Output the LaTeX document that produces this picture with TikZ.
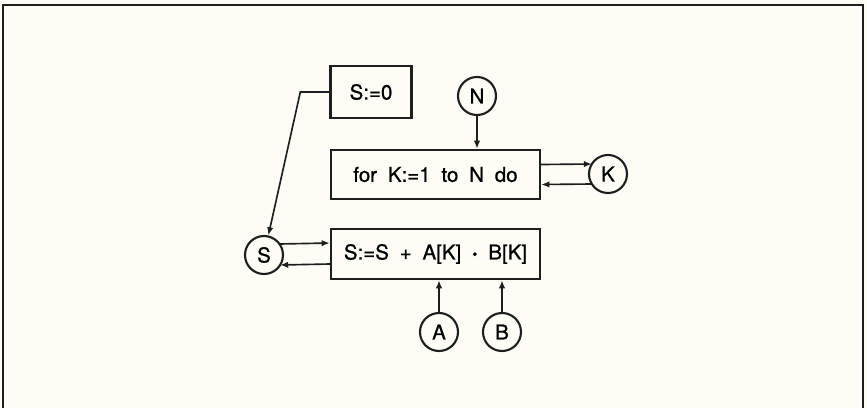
\documentclass[tikz,border=0pt]{standalone}
\usepackage{fontspec}
\setsansfont[WordSpace=1.9, FakeBold=0.8]{TeX Gyre Heros}
\usetikzlibrary{arrows.meta, calc}
\definecolor{cPaper}{HTML}{FDFDF6}
\definecolor{cInk}{HTML}{1E1E1E}

\begin{document}
\begin{tikzpicture}[
    x=0.03cm, y=-0.03cm, font=\sffamily\fontsize{17.5}{20}\selectfont,
    blk/.style={draw=cInk, line width=2pt, inner sep=0pt},
    var/.style={circle, draw=cInk, line width=1.8pt, minimum size=1.14cm,
                inner sep=0pt},
    sig/.style={-{Latex[length=7pt, width=5.5pt]}, line width=1.4pt, cInk},
]

% ===========================================================================
% Marco de la figura
% ===========================================================================
\fill[cPaper] (0,0) rectangle (867,408);
\useasboundingbox (0,0) rectangle (867,408);
\draw[cInk, line width=2pt] (3,408) -- (3,5) -- (863,5) -- (863,408);

% ----- bloques -----
\node[blk, minimum width=2.43cm, minimum height=1.56cm] (init) at (371,92) {S:=0};
\node[blk, minimum width=6.27cm, minimum height=1.47cm] (loop) at (435.5,174.5)
      {for K:=1 to N do};
\node[blk, minimum width=6.27cm, minimum height=1.5cm] (body) at (435.5,254)
      {S:=S + A[K] \scalebox{0.75}{\textbullet} B[K]};

% ----- variables -----
\node[var] (n) at (477,96) {N};
\node[var] (k) at (608,174) {K};
\node[var] (s) at (264,255) {S};
\node[var] (a) at (439,332) {A};
\node[var] (b) at (502,332) {B};

% ----- inicialización de S -----
\draw[sig] (init.west) -- ++(-29,0) coordinate (bend) -- (s);

% ----- límite y contador del bucle -----
\draw[sig] (n) -- (n |- loop.north);
\draw[sig] ($(loop.east)+(0,-10)$) -- ($(k.center)+(-16,-10)$);
\draw[sig] ($(k.center)+(-16,10)$) -- ($(loop.east)+(0,10)$);

% ----- acumulador -----
\draw[sig] ($(s.center)+(15.5,-11)$) -- ($(body.west)+(0,-11)$);
\draw[sig] ($(body.west)+(0,10)$) -- ($(s.center)+(16,10)$);

% ----- operandos -----
\draw[sig] (a) -- (a |- body.south);
\draw[sig] (b) -- (b |- body.south);

\end{tikzpicture}
\end{document}
